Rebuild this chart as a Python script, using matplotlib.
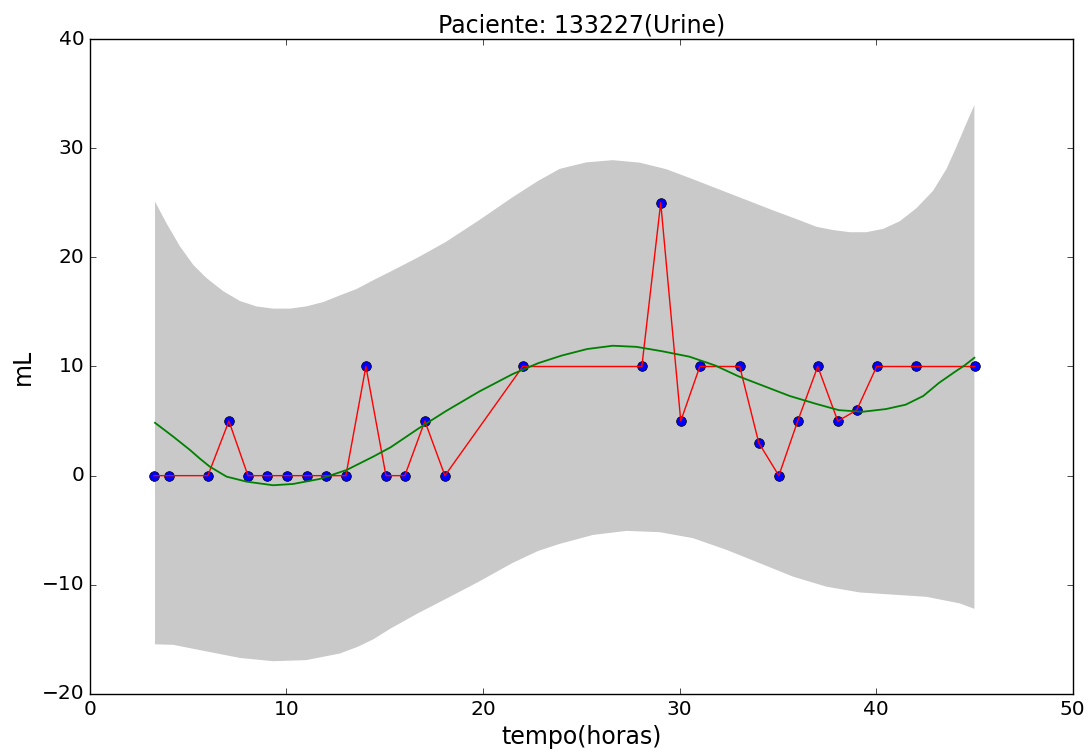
import matplotlib
matplotlib.use("Agg")
import matplotlib.pyplot as plt

# observed urine volumes
horas = [3.26, 4.02, 6.0, 7.07, 8.04, 9.0, 10.02, 11.04, 12.0, 13.02, 14.04, 15.06,
         16.02, 17.04, 18.06, 22.02, 28.08, 29.04, 30.06, 31.03, 33.06, 34.03, 35.05,
         36.01, 37.03, 38.05, 39.01, 40.03, 42.01, 45.02]
volume = [0, 0, 0, 5, 0, 0, 0, 0, 0, 0, 10, 0, 0, 5, 0, 10, 10, 25, 5, 10, 10, 3, 0,
          5, 10, 5, 6, 10, 10, 10]

# fitted mean curve
mean_x = [3.31, 4.24, 5.09, 5.6, 6.1, 6.95, 7.97, 9.32, 10.34, 11.7, 13.06, 14.41, 15.3,
          16.7, 18.1, 19.8, 21.5, 22.8, 24.0, 25.3, 26.6, 27.8, 29.1, 30.5, 31.8,
          33.0, 34.3, 35.6, 36.9, 38.1, 39.3, 40.5, 41.5, 42.4, 43.2, 44.0, 44.5, 45.0]
mean_y = [4.84, 3.57, 2.35, 1.55, 0.82, -0.09, -0.55, -0.88, -0.76, -0.3, 0.52, 1.74, 2.6,
          4.3, 5.9, 7.7, 9.3, 10.3, 11.0, 11.6, 11.9, 11.8, 11.4, 10.9, 10.1, 9.1,
          8.2, 7.3, 6.6, 6.0, 5.85, 6.1, 6.5, 7.3, 8.5, 9.5, 10.1, 10.8]

# upper edge of the band
upper_x = [3.31, 3.9, 4.58, 5.26, 5.93, 6.78, 7.63, 8.48, 9.32, 10.17, 11.0, 11.87,
           12.7, 13.57, 14.41, 15.3, 16.7, 18.1, 19.8, 21.5, 22.8, 23.9, 25.26, 26.6,
           27.98, 29.33, 30.69, 32.04, 33.4, 34.76, 36.1, 36.96, 37.8, 38.66, 39.5,
           40.35, 41.2, 42.05, 42.9, 43.58, 44.08, 44.6, 45.0]
upper_y = [25.1, 23.1, 21.0, 19.3, 18.1, 16.9, 16.0, 15.5, 15.3, 15.3, 15.5, 15.9,
           16.5, 17.1, 17.9, 18.7, 20.0, 21.4, 23.4, 25.5, 27.0, 28.1, 28.7, 28.9,
           28.67, 28.07, 27.15, 26.2, 25.25, 24.3, 23.4, 22.8, 22.5, 22.3, 22.3,
           22.6, 23.3, 24.5, 26.1, 28.1, 30.1, 32.3, 33.95]

# lower edge of the band
lower_x = [3.31, 4.24, 5.93, 7.63, 9.32, 11.0, 12.7, 13.6, 14.41, 15.3, 16.7, 18.1,
           19.8, 21.5, 22.8, 23.9, 25.6, 27.3, 29.0, 30.69, 32.39, 34.08, 35.77,
           37.47, 39.17, 40.86, 42.56, 44.25, 45.0]
lower_y = [-15.45, -15.5, -16.1, -16.7, -17.0, -16.9, -16.3, -15.7, -15.0, -14.0,
           -12.6, -11.3, -9.7, -8.0, -6.9, -6.25, -5.43, -5.06, -5.18, -5.73, -6.8,
           -8.02, -9.25, -10.17, -10.7, -10.9, -11.1, -11.7, -12.2]

plt.style.use("classic")
plt.rcParams["font.size"] = 14.5

fig = plt.figure(figsize=(10.89, 7.53), dpi=100, facecolor="white")
ax = fig.add_axes([0.0826, 0.0784, 0.9024, 0.8698])

# band as one closed polygon: upper edge left->right, lower edge back
ax.fill(upper_x + lower_x[::-1], upper_y + lower_y[::-1],
        color="#c9c9c9", linewidth=0)
ax.plot(horas, volume, "bo", markersize=7)
ax.plot(horas, volume, "r-", linewidth=1)
ax.plot(mean_x, mean_y, "g-", linewidth=1.3)

ax.set_xlim(0, 50)
ax.set_ylim(-20, 40)
ax.set_title("Paciente: 133227(Urine)", fontsize=17)
ax.set_xlabel("tempo(horas)", fontsize=17)
ax.set_ylabel("mL", fontsize=17)

fig.savefig("out.png", dpi=100, facecolor="white")
